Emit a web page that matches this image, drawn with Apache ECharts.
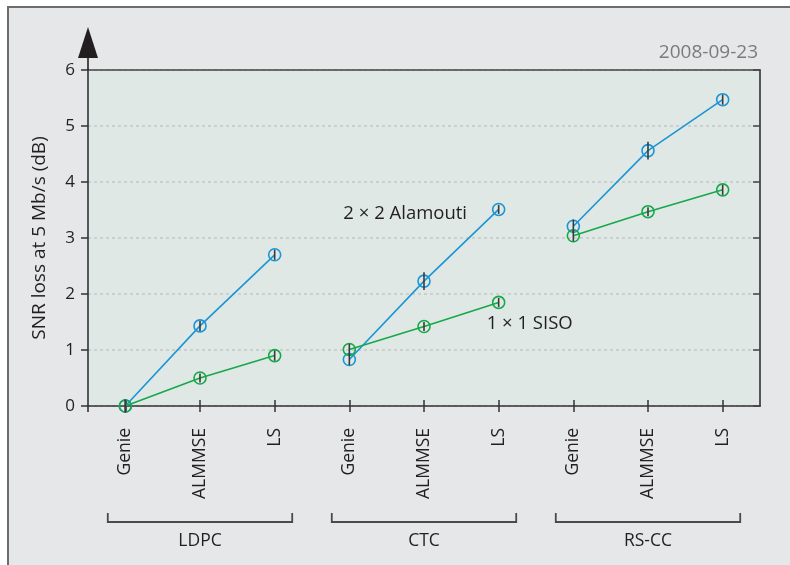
<!DOCTYPE html>
<html>
<head>
<meta charset="utf-8">
<script src="https://cdn.jsdelivr.net/npm/echarts@6/dist/echarts.min.js"></script>
<style>
  html, body { margin: 0; padding: 0; background: #ffffff; }
  #chart { width: 790px; height: 565px; }
</style>
</head>
<body>
<div id="chart"></div>
<script>
// Decoder / channel-estimator combinations along the x axis
const codes = ['LDPC', 'CTC', 'RS-CC'];
const estimators = ['Genie', 'ALMMSE', 'LS'];
const categories = ['Genie', 'ALMMSE', 'LS', 'Genie', 'ALMMSE', 'LS', 'Genie', 'ALMMSE', 'LS'];

// SNR loss at 5 Mb/s (dB)
const alamoutiValues = [0, 1.43, 2.70, 0.83, 2.23, 3.51, 3.21, 4.56, 5.47];
const sisoValues     = [0, 0.50, 0.90, 1.01, 1.42, 1.85, 3.04, 3.47, 3.86];

// Half-length of the confidence bars (dB)
const alamoutiErr = [0.12, 0.09, 0.09, 0.10, 0.16, 0.08, 0.12, 0.16, 0.09];
const sisoErr     = [0.10, 0.08, 0.09, 0.10, 0.08, 0.08, 0.10, 0.08, 0.09];

const yTicks = [0, 1, 2, 3, 4, 5, 6];

const BLUE = '#1b95d6';
const GREEN = '#16a84b';
const INK = '#231f20';
const FONT = 'Open Sans';

const chart = echarts.init(document.getElementById('chart'), null, { renderer: 'canvas' });

function errSeries(name, vals, errs) {
  return {
    type: 'custom',
    name: name,
    xAxisIndex: 0,
    yAxisIndex: 0,
    z: 5,
    silent: true,
    data: vals.map((v, i) => [i, v, errs[i]]),
    renderItem: function (params, api) {
      const x = api.value(0), y = api.value(1), e = api.value(2);
      const p1 = api.coord([x, y - e]);
      const p2 = api.coord([x, y + e]);
      return {
        type: 'line',
        shape: { x1: p1[0], y1: p1[1], x2: p2[0], y2: p2[1] },
        style: { stroke: '#3a3a3a', lineWidth: 1.6 }
      };
    }
  };
}

// One line segment per code group so groups stay unconnected
function groupSeries(name, vals, color) {
  return codes.map((code, g) => {
    const lo = g * estimators.length;
    const hi = lo + estimators.length - 1;
    return {
      type: 'line',
      name: name,
      xAxisIndex: 0,
      yAxisIndex: 0,
      data: vals.map((v, i) => (i >= lo && i <= hi ? v : '-')),
      z: 3,
      symbol: 'circle',
      symbolSize: 12,
      showSymbol: true,
      connectNulls: false,
      lineStyle: { color: color, width: 1.6 },
      itemStyle: { color: 'rgba(0,0,0,0)', borderColor: color, borderWidth: 1.6 },
      emphasis: { disabled: true }
    };
  });
}

const option = {
  animation: false,
  textStyle: { fontFamily: FONT },
  grid: {
    left: 88, top: 70, right: 30, bottom: 159,
    show: true, backgroundColor: '#dfe8e4', borderWidth: 0
  },
  xAxis: [
    {
      type: 'category', position: 'bottom', data: categories,
      boundaryGap: true,
      axisLine: { show: true, lineStyle: { color: '#333', width: 1.6 } },
      axisTick: { show: true, alignWithLabel: true, length: 6, lineStyle: { color: '#333', width: 1.5 } },
      axisLabel: { rotate: 90, margin: 22, fontSize: 17.5, color: INK, fontFamily: FONT },
      splitLine: { show: false }
    },
    {
      type: 'category', position: 'bottom', data: categories,
      boundaryGap: true,
      axisLine: { show: false },
      axisTick: { show: true, inside: true, alignWithLabel: true, length: 6, lineStyle: { color: '#333', width: 1.5 } },
      axisLabel: { show: false },
      splitLine: { show: false }
    },
    {
      type: 'category', position: 'top', data: categories,
      axisLine: { show: true, lineStyle: { color: '#444', width: 1.6 } },
      axisTick: { show: false },
      axisLabel: { show: false }
    }
  ],
  yAxis: [
    {
      type: 'value', min: 0, max: 6, interval: 1,
      name: 'SNR loss at 5 Mb/s (dB)',
      nameLocation: 'middle', nameGap: 39, nameRotate: 90,
      nameTextStyle: { fontSize: 19, color: INK, fontFamily: FONT },
      axisLine: { show: true, lineStyle: { color: '#333', width: 1.6 } },
      axisTick: { show: true, length: 7, lineStyle: { color: '#333', width: 1.5 } },
      axisLabel: {
        fontSize: 17, color: INK, margin: 13, fontFamily: FONT,
        formatter: v => (yTicks.indexOf(v) >= 0 ? String(v) : '')
      },
      splitLine: { show: true, lineStyle: { color: '#c3c8c6', type: [3, 3], width: 1.5 } }
    },
    {
      type: 'value', min: 0, max: 6, interval: 1, position: 'right',
      axisLine: { show: true, lineStyle: { color: '#333', width: 1.6 } },
      axisTick: { show: true, inside: true, length: 7, lineStyle: { color: '#444', width: 1.5 } },
      axisLabel: { show: false },
      splitLine: { show: false }
    }
  ],
  series: [].concat(
    groupSeries('2 × 2 Alamouti', alamoutiValues, BLUE),
    groupSeries('1 × 1 SISO', sisoValues, GREEN),
    [errSeries('err-alamouti', alamoutiValues, alamoutiErr),
     errSeries('err-siso', sisoValues, sisoErr)]
  )
};

chart.setOption(option);

// Frame, axis arrow, series labels, date and code-group brackets
function px(catIndex, value) {
  return chart.convertToPixel({ xAxisIndex: 0, yAxisIndex: 0 }, [catIndex, value]);
}
// Fractional category position (category axes snap to whole indices)
function pxFrac(pos, value) {
  const a = px(0, value), b = px(1, value);
  return [a[0] + (b[0] - a[0]) * pos, a[1]];
}

const gridRect = chart.getModel().getComponent('grid').coordinateSystem.getRect();
const axisX = gridRect.x;
const axisTop = gridRect.y;
const axisBottom = gridRect.y + gridRect.height;
const axisRight = gridRect.x + gridRect.width;
const bandW = gridRect.width / categories.length;

const graphics = [
  {
    type: 'rect', z: -10, silent: true,
    shape: { x: 8, y: 7, width: 800, height: 600 },
    style: { fill: '#e6e7e9', stroke: '#6c6c6c', lineWidth: 2 }
  },
  {
    type: 'line', z: 10, silent: true,
    shape: { x1: axisX, y1: axisTop - 14, x2: axisX, y2: axisTop },
    style: { stroke: '#222', lineWidth: 1.6 }
  },
  {
    type: 'line', z: 10, silent: true,
    shape: { x1: axisX, y1: axisBottom, x2: axisX, y2: axisBottom + 6 },
    style: { stroke: '#333', lineWidth: 1.6 }
  },
  {
    type: 'polygon', z: 10, silent: true,
    shape: { points: [[axisX, axisTop - 43], [axisX - 10, axisTop - 12], [axisX + 10, axisTop - 12]] },
    style: { fill: '#231f20' }
  },
  {
    type: 'text', z: 10, silent: true,
    style: {
      text: '2008-09-23', x: axisRight - 2, y: axisTop - 17,
      align: 'right', verticalAlign: 'middle',
      fontSize: 19, fontFamily: FONT, fill: '#7b7b7b'
    }
  }
];

// Series name labels placed in data space
const alamoutiLabelPos = pxFrac(2.92, 3.43);
const sisoLabelPos = pxFrac(4.84, 1.47);
graphics.push({
  type: 'text', z: 10, silent: true,
  style: { text: '2 × 2 Alamouti', x: alamoutiLabelPos[0], y: alamoutiLabelPos[1],
           align: 'left', verticalAlign: 'middle', fontSize: 18.5, fontFamily: FONT, fill: INK }
});
graphics.push({
  type: 'text', z: 10, silent: true,
  style: { text: '1 × 1 SISO', x: sisoLabelPos[0], y: sisoLabelPos[1],
           align: 'left', verticalAlign: 'middle', fontSize: 18.5, fontFamily: FONT, fill: INK }
});

// Brackets grouping the three estimators of each code
const bracketY = axisBottom + 116;
codes.forEach((code, g) => {
  const first = px(g * estimators.length, 0)[0];
  const last = px(g * estimators.length + estimators.length - 1, 0)[0];
  const x1 = first - bandW * 0.235;
  const x2 = last + bandW * 0.235;
  graphics.push({
    type: 'polyline', z: 10, silent: true,
    shape: { points: [[x1, bracketY - 9], [x1, bracketY], [x2, bracketY], [x2, bracketY - 9]] },
    style: { stroke: '#4a4a4a', lineWidth: 1.8, fill: null }
  });
  graphics.push({
    type: 'text', z: 10, silent: true,
    style: { text: code, x: (first + last) / 2, y: bracketY + 19,
             align: 'center', verticalAlign: 'middle', fontSize: 17.5, fontFamily: FONT, fill: INK }
  });
});

chart.setOption({ graphic: graphics });
</script>
</body>
</html>
